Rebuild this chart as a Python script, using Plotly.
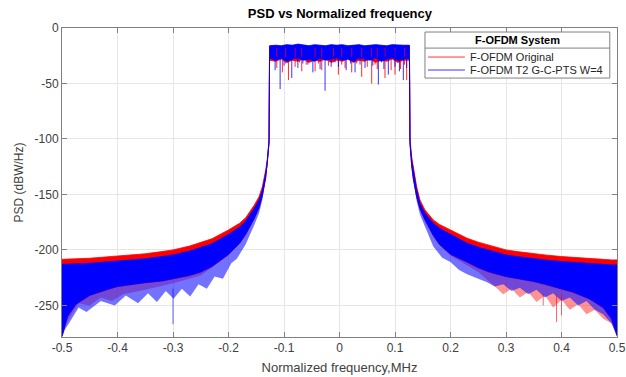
import plotly.graph_objects as go

# ---------------- data ----------------
# skirt frequencies |f| (MHz), from band edge outward
SKIRT_ABS = [0.127, 0.13, 0.133, 0.139, 0.145, 0.154, 0.169, 0.18, 0.20, 0.23, 0.25,
             0.27, 0.30, 0.32, 0.35, 0.37, 0.40, 0.42, 0.45, 0.475, 0.49, 0.5]
RED_UPPER_L = [-100, -118, -128, -143, -152, -160, -171, -176, -182, -190, -193.5,
               -196.5, -200, -201.5, -203.5, -204.5, -205.5, -206.5, -207.5, -208, -208.5, -208.5]
RED_UPPER_R = [-100, -116, -125, -143, -155, -164, -173, -177, -182, -189.5, -193,
               -196, -200, -201.5, -203.5, -204.5, -206, -206.5, -207.5, -208.5, -209, -209]
BLUE_UPPER_L = [-102, -121, -131, -146, -155, -163, -174, -179.5, -186, -194.5, -198,
                -201, -204.5, -206, -208, -209, -210, -211, -212, -212.5, -213, -213]
BLUE_UPPER_R = [-102, -119, -128, -146, -158, -167, -176, -180.5, -186, -194, -197.5,
                -200.5, -204.5, -206, -208, -209, -210.5, -211, -212, -213, -213.5, -213.5]
DENSE_LOWER_L = [-104, -124, -135, -151, -162, -172, -186, -194, -204, -215, -220,
                 -223, -226, -228, -229.5, -231, -233, -236, -241, -249, -260, -278]
DENSE_LOWER_R = [-104, -124, -136, -152, -163, -173, -187, -195, -204, -211, -216,
                 -220, -224, -226, -228.5, -231, -235, -238, -244, -252, -262, -277]

# lower (spiky) envelopes
BLUE_SPIKE_L_F = [0.127, 0.13, 0.133, 0.139, 0.145, 0.154, 0.169, 0.185, 0.195, 0.21, 0.225, 0.239,
                  0.254, 0.269, 0.284, 0.299, 0.313, 0.329, 0.345, 0.363, 0.385, 0.405, 0.43,
                  0.456, 0.47, 0.486, 0.495, 0.5]
BLUE_SPIKE_L = [-104, -125, -137, -155, -167, -178, -195, -208, -212, -226, -224, -235,
                -231, -242, -235, -244, -237, -247, -239, -248, -241, -250, -246,
                -256, -252, -265, -272, -278]
RED_SPIKE_L_F = [0.127, 0.13, 0.133, 0.139, 0.145, 0.154, 0.169, 0.18, 0.2, 0.25, 0.3, 0.35,
                 0.39, 0.41, 0.43, 0.45, 0.47, 0.49, 0.5]
RED_SPIKE_L = [-104, -124, -135, -151, -162, -172, -186, -194, -205, -223, -230, -236,
               -240, -246, -243, -250, -248, -264, -272]
BLUE_SPIKE_R_F = [0.127, 0.13, 0.133, 0.139, 0.145, 0.154, 0.169, 0.185, 0.2, 0.215, 0.23, 0.25,
                  0.265, 0.28, 0.295, 0.31, 0.325, 0.34, 0.355, 0.37, 0.385, 0.4, 0.415,
                  0.43, 0.445, 0.46, 0.475, 0.49, 0.5]
BLUE_SPIKE_R = [-104, -125, -138, -156, -168, -179, -197, -207, -211, -218, -222, -226,
                -229, -233, -231, -237, -234, -240, -236, -243, -239, -246, -243,
                -250, -246, -254, -258, -266, -278]
RED_SPIKE_R_F = [0.127, 0.13, 0.133, 0.139, 0.145, 0.154, 0.169, 0.18, 0.2, 0.25, 0.28, 0.295,
                 0.31, 0.325, 0.34, 0.355, 0.37, 0.385, 0.40, 0.415, 0.43, 0.445, 0.46, 0.475,
                 0.49, 0.5]
RED_SPIKE_R = [-104, -124, -136, -152, -163, -173, -187, -195, -205, -220, -233, -240,
               -235, -243, -238, -247, -241, -252, -245, -254, -249, -258, -254, -262,
               -266, -276]

# isolated deep spikes
RED_DEEP_F = [0.367, 0.391, 0.400]
RED_DEEP = [-250, -265, -259]
BLUE_DEEP_F = [-0.300]
BLUE_DEEP = [-267]

# pass band
PB_F = [-0.126, -0.115, -0.105, -0.095, -0.085, -0.075, -0.065, -0.055, -0.045, -0.035,
        -0.025, -0.015, -0.005, 0.005, 0.015, 0.025, 0.035, 0.045, 0.055, 0.065, 0.075,
        0.085, 0.095, 0.105, 0.115, 0.126]
BLUE_PB_TOP = [-16, -15.5, -16, -15, -15.5, -14.5, -15.5, -16, -15, -15.5, -16, -15, -15.5,
               -15, -16, -15.5, -15, -16, -15.5, -15, -15.5, -16, -15, -15.5, -15.5, -15.5]
BLUE_PB_BOT = [-27, -29, -27, -30, -28, -27, -29, -28, -30, -27, -29, -28, -27, -29,
               -28, -30, -27, -28, -29, -27, -30, -28, -27, -29, -28, -27]
RED_PB_TOP = [-16.5, -16, -16.5, -15.5, -16, -15.5, -16, -16.5, -16, -16, -16.5, -15.5, -16,
              -16, -16.5, -16, -15.5, -16.5, -16, -15.5, -16, -16.5, -15.5, -16, -16, -16]
RED_PB_BOT = [-29, -30, -28, -31, -29, -30, -28, -31, -29, -30, -28, -31, -29, -30,
              -28, -31, -29, -30, -28, -31, -29, -30, -28, -31, -29, -29]

BLUE_DIP_F = [-0.116, -0.107, -0.1, -0.093, -0.086, -0.075, -0.066, -0.057, -0.048, -0.035,
              -0.026, -0.015, -0.008, -0.002, 0.012, 0.02, 0.028, 0.037, 0.046, 0.06, 0.07,
              0.08, 0.088, 0.1, 0.108, 0.115, 0.121]
BLUE_DIP = [-38, -55, -34, -31, -45, -36, -32, -33, -40, -37, -56.5, -35, -31,
            -35, -38, -32, -40, -33, -36, -34, -51, -37, -42, -35, -39, -47, -36]
RED_DIP_F = [-0.113, -0.103, -0.097, -0.092, -0.08, -0.072, -0.068, -0.06, -0.044, -0.038,
             -0.032, -0.02, -0.011, -0.002, 0.004, 0.01, 0.022, 0.031, 0.04, 0.05, 0.058,
             0.064, 0.068, 0.076, 0.082, 0.093, 0.1, 0.11, 0.117, 0.121]
RED_DIP = [-36, -40, -32, -47, -35, -31, -39, -33, -39, -32, -38, -34, -31, -42, -33,
           -36, -40, -32, -44, -35, -50, -33, -37, -31, -45, -38, -42, -37, -33, -47]

X_TICKS = [-0.5, -0.4, -0.3, -0.2, -0.1, 0, 0.1, 0.2, 0.3, 0.4, 0.5]
X_TICK_TEXT = ["-0.5", "-0.4", "-0.3", "-0.2", "-0.1", "0", "0.1", "0.2", "0.3", "0.4", "0.5"]
Y_TICKS = [0, -50, -100, -150, -200, -250]
Y_TICK_TEXT = ["0", "-50", "-100", "-150", "-200", "-250"]

LEGEND_TITLE = "F-OFDM System"
SERIES = ["F-OFDM Original", "F-OFDM T2 G-C-PTS W=4"]
RED = "#ff0000"
BLUE = "#0000ff"


# ---------------- helpers ----------------
def rev(a):
    return list(reversed(a))


def neg(a):
    return [-v for v in a]


def main_band(up_l, up_r, lo_l, lo_r, pb_top, pb_bot):
    xs = neg(rev(SKIRT_ABS)) + PB_F + SKIRT_ABS
    ys = rev(up_l) + pb_top + up_r
    xs += rev(SKIRT_ABS) + rev(PB_F) + neg(SKIRT_ABS)
    ys += rev(lo_r) + rev(pb_bot) + lo_l
    return xs, ys


def side_band(fd, dense, fs, spike, sign):
    xs = [sign * v for v in fd] + [sign * v for v in rev(fs)]
    ys = list(dense) + rev(spike)
    return xs, ys


def segs(fs, vals, top):
    xs, ys = [], []
    for f, v in zip(fs, vals):
        xs += [f, f, None]
        ys += [top, v, None]
    return xs, ys


fig = go.Figure()

# light spiky regions
for dense, fs, spike, sign in [
    (DENSE_LOWER_L, RED_SPIKE_L_F, RED_SPIKE_L, -1),
    (DENSE_LOWER_R, RED_SPIKE_R_F, RED_SPIKE_R, 1),
]:
    x, y = side_band(SKIRT_ABS, dense, fs, spike, sign)
    fig.add_trace(go.Scatter(x=x, y=y, fill="toself", mode="lines", line=dict(width=0),
                             fillcolor="rgba(255,40,40,0.5)", showlegend=False, hoverinfo="skip"))
for dense, fs, spike, sign in [
    (DENSE_LOWER_L, BLUE_SPIKE_L_F, BLUE_SPIKE_L, -1),
    (DENSE_LOWER_R, BLUE_SPIKE_R_F, BLUE_SPIKE_R, 1),
]:
    x, y = side_band(SKIRT_ABS, dense, fs, spike, sign)
    fig.add_trace(go.Scatter(x=x, y=y, fill="toself", mode="lines", line=dict(width=0),
                             fillcolor="rgba(20,20,255,0.6)", showlegend=False, hoverinfo="skip"))

# red main band
x, y = main_band(RED_UPPER_L, RED_UPPER_R, DENSE_LOWER_L, DENSE_LOWER_R, RED_PB_TOP, RED_PB_BOT)
fig.add_trace(go.Scatter(x=x, y=y, fill="toself", mode="lines", line=dict(width=0.8, color=RED),
                         fillcolor=RED, showlegend=False, hoverinfo="skip", name=SERIES[0]))
# red dips (under the blue band where they overlap)
x, y = segs(RED_DIP_F, RED_DIP, -19)
fig.add_trace(go.Scatter(x=x, y=y, mode="lines", line=dict(width=1, color="rgba(255,0,0,0.85)"),
                         showlegend=False, hoverinfo="skip"))
# blue main band
x, y = main_band(BLUE_UPPER_L, BLUE_UPPER_R, DENSE_LOWER_L, DENSE_LOWER_R, BLUE_PB_TOP, BLUE_PB_BOT)
fig.add_trace(go.Scatter(x=x, y=y, fill="toself", mode="lines", line=dict(width=0.8, color=BLUE),
                         fillcolor=BLUE, showlegend=False, hoverinfo="skip", name=SERIES[1]))
# red streaks visible inside the blue pass band
x, y = segs(RED_DIP_F[::2], [-26] * len(RED_DIP_F[::2]), -18)
fig.add_trace(go.Scatter(x=x, y=y, mode="lines", line=dict(width=1, color="rgba(255,0,0,0.7)"),
                         showlegend=False, hoverinfo="skip"))
# blue dips
x, y = segs(BLUE_DIP_F, BLUE_DIP, -20)
fig.add_trace(go.Scatter(x=x, y=y, mode="lines", line=dict(width=1, color="rgba(0,0,255,0.8)"),
                         showlegend=False, hoverinfo="skip"))
x, y = segs(RED_DEEP_F, RED_DEEP, -240)
fig.add_trace(go.Scatter(x=x, y=y, mode="lines", line=dict(width=1, color="rgba(255,0,0,0.6)"),
                         showlegend=False, hoverinfo="skip"))
x, y = segs(BLUE_DEEP_F, BLUE_DEEP, -235)
fig.add_trace(go.Scatter(x=x, y=y, mode="lines", line=dict(width=1, color="rgba(0,0,255,0.6)"),
                         showlegend=False, hoverinfo="skip"))

FONT = "Liberation Sans, Arial, Helvetica, sans-serif"
AX = dict(showline=True, linecolor="#808080", linewidth=1, mirror="ticks",
          ticks="inside", ticklen=5, tickcolor="#808080", automargin=False,
          showgrid=True, gridcolor="#e6e6e6", gridwidth=1, zeroline=False,
          tickfont=dict(family=FONT, size=12, color="#404040"))

# legend box (MATLAB style, drawn in paper coordinates)
LX0, LX1, LY0, LY1, LSEP = 0.654, 0.987, 0.838, 0.987, 0.935
shapes = [
    dict(type="rect", xref="paper", yref="paper", x0=LX0, x1=LX1, y0=LY0, y1=LY1,
         line=dict(color="#808080", width=1), fillcolor="white", layer="above"),
    dict(type="line", xref="paper", yref="paper", x0=LX0, x1=LX1, y0=LSEP, y1=LSEP,
         line=dict(color="#808080", width=1), layer="above"),
    dict(type="line", xref="paper", yref="paper", x0=0.6595, x1=0.726, y0=0.906, y1=0.906,
         line=dict(color="rgba(255,0,0,0.8)", width=1), layer="above"),
    dict(type="line", xref="paper", yref="paper", x0=0.6595, x1=0.726, y0=0.864, y1=0.864,
         line=dict(color="rgba(0,0,255,0.8)", width=1), layer="above"),
]
annotations = [
    dict(text="<b>" + LEGEND_TITLE + "</b>", xref="paper", yref="paper", x=(LX0 + LX1) / 2,
         y=0.961, xanchor="center", yanchor="middle", showarrow=False,
         font=dict(family=FONT, size=11, color="#000000")),
    dict(text=SERIES[0], xref="paper", yref="paper", x=0.7315, y=0.906,
         xanchor="left", yanchor="middle", showarrow=False,
         font=dict(family=FONT, size=11, color="#262626")),
    dict(text=SERIES[1], xref="paper", yref="paper", x=0.7315, y=0.864,
         xanchor="left", yanchor="middle", showarrow=False,
         font=dict(family=FONT, size=11, color="#262626")),
]

fig.update_layout(
    width=626, height=377,
    margin=dict(l=62, r=9, t=28, b=40, autoexpand=False),
    paper_bgcolor="white", plot_bgcolor="white",
    title=dict(text="<b>PSD vs Normalized frequency</b>", x=0.543, xanchor="center",
               y=0.963, yanchor="middle", font=dict(family=FONT, size=13, color="#000000")),
    xaxis=dict(range=[-0.5, 0.5], tickvals=X_TICKS, ticktext=X_TICK_TEXT,
               title=dict(text="Normalized frequency,MHz", standoff=8,
                          font=dict(family=FONT, size=13, color="#404040")), **AX),
    yaxis=dict(range=[-278.5, 0], tickvals=Y_TICKS, ticktext=Y_TICK_TEXT,
               title=dict(text="PSD (dBW/Hz)", standoff=8,
                          font=dict(family=FONT, size=12, color="#404040")), **AX),
    shapes=shapes,
    annotations=annotations,
    showlegend=False,
)

fig.write_html("out.html", config={"displayModeBar": False},
               post_script="document.body.style.margin='0';document.body.style.overflow='hidden';")
